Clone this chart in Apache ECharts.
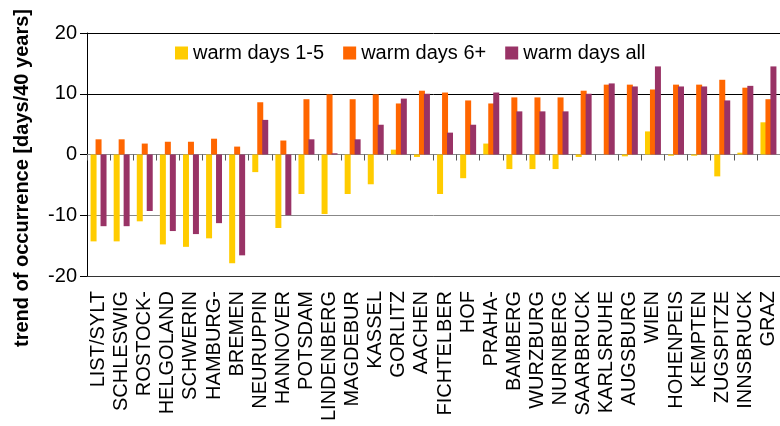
<!DOCTYPE html>
<html>
<head>
<meta charset="utf-8">
<script src="https://cdn.jsdelivr.net/npm/echarts@6/dist/echarts.min.js"></script>
<style>html,body{margin:0;padding:0;background:#fff}#c{width:780px;height:426px}</style>
</head>
<body>
<div id="c"></div>
<script>
var categories = ['LIST/SYLT','SCHLESWIG','ROSTOCK-','HELGOLAND','SCHWERIN','HAMBURG-','BREMEN','NEURUPPIN','HANNOVER','POTSDAM','LINDENBERG','MAGDEBUR','KASSEL','GORLITZ','AACHEN','FICHTELBER','HOF','PRAHA-','BAMBERG','WURZBURG','NURNBERG','SAARBRUCK','KARLSRUHE','AUGSBURG','WIEN','HOHENPEIS','KEMPTEN','ZUGSPITZE','INNSBRUCK','GRAZ'];
var warm15 = [-14.3,-14.3,-11.0,-14.8,-15.2,-13.8,-17.9,-2.9,-12.1,-6.5,-9.8,-6.5,-4.9,0.8,-0.4,-6.5,-3.9,1.8,-2.4,-2.4,-2.4,-0.4,0,-0.3,3.8,-0.2,-0.2,-3.6,0.3,5.3];
var warm6 = [2.5,2.5,1.8,2.1,2.1,2.6,1.3,8.6,2.3,9.1,9.9,9.1,9.9,8.4,10.5,10.2,8.9,8.4,9.4,9.4,9.4,10.5,11.5,11.5,10.7,11.5,11.5,12.3,11.0,9.1];
var warmAll = [-11.8,-11.8,-9.3,-12.6,-13.1,-11.3,-16.6,5.7,-10.0,2.5,0.2,2.5,4.9,9.2,10.0,3.6,4.9,10.2,7.1,7.1,7.1,10.0,11.7,11.2,14.5,11.2,11.2,8.9,11.3,14.5];
var seriesNames = ['warm days 1-5','warm days 6+','warm days all'];
var yName = 'trend of occurrence [days/40 years]';

var chart = echarts.init(document.getElementById('c'), null, {renderer:'canvas'});
var font = 'Liberation Sans, Arial, sans-serif';
var bw = 6, gap = '-17%';
chart.setOption({
  animation: false,
  backgroundColor: '#fff',
  textStyle: {fontFamily: font},
  color: ['#FFCC00','#FF6600','#993366'],
  legend: {
    left: 170, top: 38,
    itemWidth: 13, itemHeight: 13, itemGap: 19,
    icon: 'rect',
    textStyle: {fontSize: 20, color: '#000', fontFamily: font},
    data: seriesNames
  },
  grid: {left: 87, right: -3, top: 33, bottom: 150},
  xAxis: [{
    type: 'category', data: categories, position: 'bottom',
    axisLine: {onZero: false, lineStyle: {color: '#333', width: 1}},
    axisTick: {show: false},
    axisLabel: {rotate: 90, interval: 0, fontSize: 20, color: '#000', margin: 15, fontFamily: font}
  }, {
    type: 'category', data: categories, position: 'bottom',
    axisLine: {onZero: true, lineStyle: {color: '#888', width: 1}},
    axisTick: {show: true, inside: false, length: 6, interval: 0, lineStyle: {color: '#555'}},
    axisLabel: {show: false}
  }],
  yAxis: {
    type: 'value', min: -20, max: 20, interval: 10,
    axisLine: {show: true, lineStyle: {color: '#000'}},
    axisTick: {show: true, length: 7, lineStyle: {color: '#000'}},
    axisLabel: {fontSize: 20, color: '#000', margin: 10, fontFamily: font},
    splitLine: {show: true, lineStyle: {color: ['#333','#888','#888','#000','#000'], width: 1}}
  },
  graphic: [{
    type: 'text', x: 22, y: 178, rotation: Math.PI/2,
    style: {text: yName, font: 'bold 20px Liberation Sans, Arial, sans-serif', fill: '#000', align: 'center', verticalAlign: 'middle'}
  }],
  series: [
    {name: seriesNames[0], type: 'bar', xAxisIndex: 0, data: warm15, barWidth: bw, barGap: gap},
    {name: seriesNames[1], type: 'bar', xAxisIndex: 0, data: warm6, barWidth: bw, barGap: gap},
    {name: seriesNames[2], type: 'bar', xAxisIndex: 0, data: warmAll, barWidth: bw, barGap: gap}
  ]
});
</script>
</body>
</html>
